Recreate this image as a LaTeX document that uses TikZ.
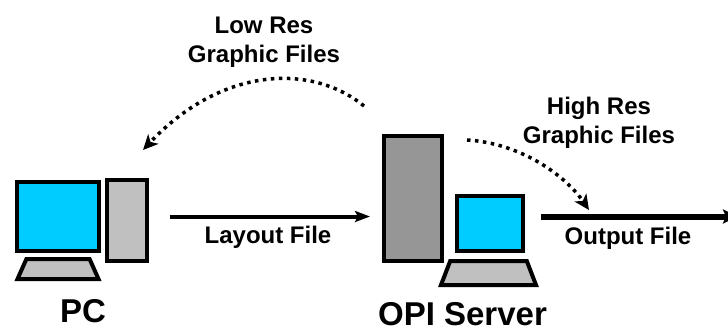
\documentclass[tikz,border=0pt]{standalone}
\usepackage{fontspec}
\setmainfont{Liberation Sans}
\usepackage{xcolor}
\usetikzlibrary{shapes.geometric,arrows.meta,calc}
\definecolor{screen}{RGB}{0,204,255}
\definecolor{casing}{RGB}{192,192,192}
\definecolor{servercase}{RGB}{150,150,150}

\begin{document}
\begin{tikzpicture}[
    x=1pt, y=-1pt,
    box/.style={draw, line width=4pt, inner sep=0pt},
    monitor/.style={box, fill=screen},
    tower/.style={box, fill=casing},
    keyboard/.style={box, fill=casing, trapezium, trapezium stretches body=true},
    label/.style={font=\fontsize{24}{29}\selectfont\bfseries, align=center, inner sep=0pt},
    linelabel/.style={label, anchor=base},
    title/.style={font=\fontsize{33}{38}\selectfont\bfseries, inner sep=0pt, anchor=base},
    filearrow/.style={-{Stealth[length=15pt, width=11pt, inset=3pt]}},
    outarrow/.style={-{Stealth[length=15pt, width=14pt, inset=3pt]}},
    dotflow/.style={-{Stealth[length=15pt, width=14pt, inset=4pt]}, line width=3.5pt, dash pattern=on 3.5pt off 4.5pt}
]
    \useasboundingbox (0,0) rectangle (728,327);

    % PC
    \node[monitor, minimum width=82pt, minimum height=69pt] (pcmonitor) at (58,216.5) {};
    \node[tower, minimum width=40pt, minimum height=81pt] (pctower) at (126.5,220.5) {};
    \node[keyboard, minimum width=81pt, trapezium left angle=66, trapezium right angle=66] (pckey) at (58,269) {\phantom{\rule{1pt}{20pt}}};
    \node[title] (pctitle) at (83,322) {PC};

    % OPI Server
    \node[box, fill=servercase, minimum width=58pt, minimum height=125pt] (opitower) at (413,198.5) {};
    \node[monitor, minimum width=66pt, minimum height=55pt] (opimonitor) at (490,223.5) {};
    \node[keyboard, minimum width=95pt, trapezium left angle=69, trapezium right angle=69] (opikey) at (488.5,273) {\phantom{\rule{1pt}{24pt}}};
    \node[title] (opititle) at (462.5,325) {OPI Server};

    % free ends of the arrows
    \coordinate (outend) at (738,216.5);
    \coordinate (lowstart) at (364,106);
    \coordinate (lowend) at (143,150);
    \coordinate (highstart) at (467,140);
    \coordinate (highend) at (589,210);

    % Arrows
    \draw[filearrow, line width=4pt, shorten <=21pt, shorten >=12pt] ([yshift=4pt]pctower.east) -- ([yshift=-18pt]opitower.west);
    \draw[outarrow, line width=6pt, shorten <=16pt] ([yshift=7pt]opimonitor.east) -- (outend);
    \draw[dotflow] (lowstart) .. controls (310,62) and (220,68) .. (lowend);
    \draw[dotflow] (highstart) .. controls (520,143) and (565,175) .. (highend);

    % Labels
    \node[label] (lowlabel) at (264,42) {Low Res\\Graphic Files};
    \node[label] (highlabel) at (599,123) {High Res\\Graphic Files};
    \node[linelabel] (layoutlabel) at (268,243) {Layout File};
    \node[linelabel] (outputlabel) at (628,244) {Output File};
\end{tikzpicture}
\end{document}
